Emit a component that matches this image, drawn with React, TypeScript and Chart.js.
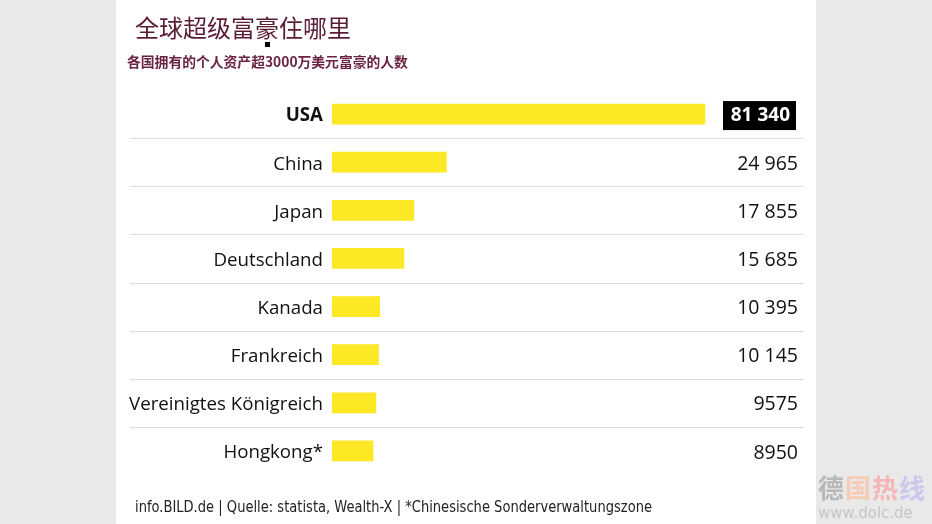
import React, { useEffect, useRef } from "react";
import { Chart, registerables } from "chart.js";

Chart.register(...registerables);

const categories = [
  "USA",
  "China",
  "Japan",
  "Deutschland",
  "Kanada",
  "Frankreich",
  "Vereinigtes Königreich",
  "Hongkong*",
];
const values = [81340, 24965, 17855, 15685, 10395, 10145, 9575, 8950];
const valueLabels = ["81 340", "24 965", "17 855", "15 685", "10 395", "10 145", "9575", "8950"];
const titleText = "全球超级富豪住哪里";
const subtitleText = "各国拥有的个人资产超3000万美元富豪的人数";
const footerText = "info.BILD.de | Quelle: statista, Wealth-X | *Chinesische Sonderverwaltungszone";
const watermarkChars = ["德", "国", "热", "线"];
const watermarkUrl = "www.dolc.de";

const LABEL_FONT = "'Open Sans', Lato, sans-serif";

const decorPlugin = {
  id: "decor",
  beforeDraw(chart: any) {
    const ctx = chart.ctx;
    const { width, height } = chart;
    ctx.save();
    ctx.fillStyle = "#e9e9e9";
    ctx.fillRect(0, 0, width, height);
    ctx.fillStyle = "#ffffff";
    ctx.fillRect(116, 0, 700, height);

    // title
    ctx.fillStyle = "#5a1c34";
    ctx.textBaseline = "alphabetic";
    ctx.textAlign = "left";
    ctx.font = "24px 'Noto Sans CJK SC'";
    ctx.fillText(titleText, 135, 37);
    ctx.font = "bold 13.8px 'Noto Sans CJK SC'";
    ctx.fillStyle = "#6a2340";
    ctx.fillText(subtitleText, 127, 67);
    ctx.fillStyle = "#000";
    ctx.fillRect(265, 42, 5, 5);

    // separators
    const y = chart.scales.y;
    const n = categories.length;
    const band = (y.bottom - y.top) / n;
    ctx.strokeStyle = "#dcdcdc";
    ctx.lineWidth = 1;
    for (let i = 0; i < n - 1; i++) {
      const yy = Math.round(y.getPixelForValue(i) + band / 2) + 0.5;
      ctx.beginPath();
      ctx.moveTo(130, yy);
      ctx.lineTo(803, yy);
      ctx.stroke();
    }

    // footer
    ctx.fillStyle = "#222";
    ctx.font = "15px 'DejaVu Sans Condensed', 'DejaVu Sans'";
    ctx.fillText(footerText, 135, 512, 517);

    // watermark
    const wmColors = ["#b8b8b8", "#f6cbb4", "#f4b6b6", "#cdc7ec"];
    ctx.font = "bold 26px 'Noto Sans CJK SC'";
    watermarkChars.forEach((c, i) => {
      ctx.fillStyle = wmColors[i];
      ctx.fillText(c, 818 + i * 27, 498);
    });
    ctx.fillStyle = "#c6c6c6";
    ctx.font = "15px 'DejaVu Sans'";
    ctx.fillText(watermarkUrl, 818, 518, 108);
    ctx.restore();
  },
  afterDatasetsDraw(chart: any) {
    const ctx = chart.ctx;
    const y = chart.scales.y;
    ctx.save();
    ctx.textAlign = "right";
    ctx.textBaseline = "middle";
    valueLabels.forEach((lab, i) => {
      const py = y.getPixelForValue(i);
      if (i === 0) {
        ctx.fillStyle = "#000";
        ctx.fillRect(723, py - 13, 73, 29);
        ctx.fillStyle = "#fff";
        ctx.font = `bold 19px ${LABEL_FONT}`;
        ctx.fillText(lab, 790, py + 2);
      } else {
        ctx.fillStyle = "#111";
        ctx.font = `19.5px ${LABEL_FONT}`;
        ctx.fillText(lab, 798, py + 2);
      }
    });
    ctx.restore();
  },
};

export default function App() {
  const ref = useRef<HTMLCanvasElement>(null);
  useEffect(() => {
    if (!ref.current) return;
    const chart = new Chart(ref.current, {
      type: "bar",
      data: {
        labels: categories,
        datasets: [
          {
            data: values,
            backgroundColor: "#fde825",
            barThickness: 20,
          },
        ],
      },
      options: {
        animation: false,
        responsive: false,
        indexAxis: "y",
        layout: { padding: { left: 116, top: 90, bottom: 49, right: 141.4 } },
        plugins: { legend: { display: false }, tooltip: { enabled: false } },
        scales: {
          x: { display: false, min: 0, max: 100000 },
          y: {
            grid: { display: false, drawTicks: false },
            border: { display: false },
            afterFit: (scale: any) => {
              scale.width = 216;
            },
            ticks: {
              padding: 9,
              labelOffset: 2,
              color: "#111",
              font: (c: any) => ({
                family: LABEL_FONT,
                size: 18.7,
                weight: c.index === 0 ? "bold" : "normal",
              }),
            },
          },
        },
      },
      plugins: [decorPlugin],
    });
    return () => chart.destroy();
  }, []);
  return (
    <div style={{ position: "fixed", left: 0, top: 0, width: 932, height: 524 }}>
      <canvas ref={ref} width={932} height={524} />
    </div>
  );
}
